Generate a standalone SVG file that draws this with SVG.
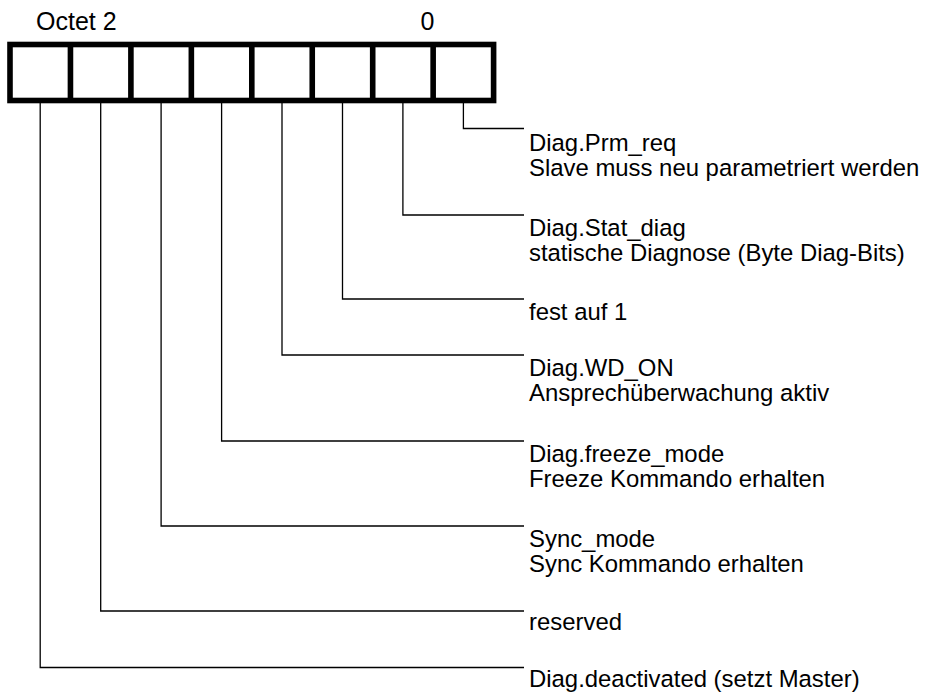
<svg xmlns="http://www.w3.org/2000/svg" width="926" height="695" viewBox="0 0 926 695">
<style>
text{font-family:"Liberation Sans",Arial,sans-serif;font-size:23.9px;fill:#000}
.h{font-size:25px}
.box{fill:#fff;stroke:#000;stroke-width:5.6}
.c{fill:none;stroke:#000;stroke-width:1.3}
</style>
<rect width="926" height="695" fill="#fff"/>
<g id="header">
<text class="h" x="36" y="29.5">Octet 2</text>
<text class="h" x="420.5" y="29.5">0</text>
</g>
<g id="octet">
<rect class="box" x="10" y="44.5" width="483.6" height="56"/>
<path class="box" d="M70.45 44.5V100.5M130.9 44.5V100.5M191.35 44.5V100.5M251.8 44.5V100.5M312.25 44.5V100.5M372.7 44.5V100.5M433.15 44.5V100.5"/>
</g>
<g id="connectors">
<polyline class="c" points="463.4,103 463.4,128.5 524,128.5"/>
<polyline class="c" points="402.9,103 402.9,215 524,215"/>
<polyline class="c" points="342.5,103 342.5,299 524,299"/>
<polyline class="c" points="282,103 282,355 524,355"/>
<polyline class="c" points="221.6,103 221.6,441 524,441"/>
<polyline class="c" points="161.1,103 161.1,526 524,526"/>
<polyline class="c" points="100.7,103 100.7,611 524,611"/>
<polyline class="c" points="40.2,103 40.2,667.5 524,667.5"/>
</g>
<g id="bit0"><text x="529" y="150.5">Diag.Prm_req</text><text x="529" y="175.5">Slave muss neu parametriert werden</text></g>
<g id="bit1"><text x="529" y="235.5">Diag.Stat_diag</text><text x="529" y="260.5">statische Diagnose (Byte Diag-Bits)</text></g>
<g id="bit2"><text x="529" y="320">fest auf 1</text></g>
<g id="bit3"><text x="529" y="375.5">Diag.WD_ON</text><text x="529" y="400.5">Ansprechüberwachung aktiv</text></g>
<g id="bit4"><text x="529" y="461.5">Diag.freeze_mode</text><text x="529" y="486.5">Freeze Kommando erhalten</text></g>
<g id="bit5"><text x="529" y="546.5">Sync_mode</text><text x="529" y="571.5">Sync Kommando erhalten</text></g>
<g id="bit6"><text x="529" y="630">reserved</text></g>
<g id="bit7"><text x="529" y="687">Diag.deactivated (setzt Master)</text></g>
</svg>
